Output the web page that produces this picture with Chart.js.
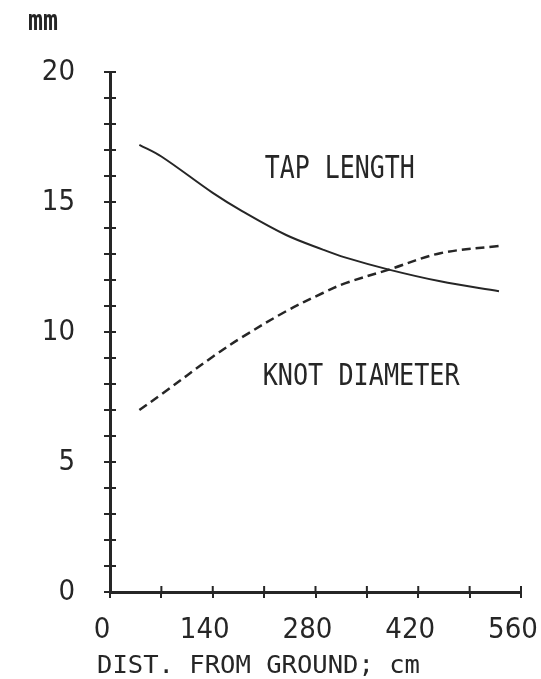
<!DOCTYPE html>
<html><head><meta charset="utf-8">
<script src="https://cdn.jsdelivr.net/npm/chart.js@4.4.0/dist/chart.umd.min.js"></script>
<style>html,body{margin:0;padding:0;background:#fff}#wrap{width:541px;height:679px;position:relative}</style>
</head><body><div id="wrap"><canvas id="c" width="541" height="679"></canvas></div>
<script>
// ---- data ----
const distances    = [40, 70, 140, 180, 240, 290, 320, 380, 450, 530];
const tapLength    = [17.2, 16.75, 15.35, 14.65, 13.73, 13.17, 12.87, 12.4, 11.95, 11.57];
const knotDiameter = [7.0, 7.6, 9.05, 9.8, 10.8, 11.5, 11.87, 12.4, 13.03, 13.31];
const xTickLabels  = [0, 140, 280, 420, 560];
const yTickLabels  = [0, 5, 10, 15, 20];
const seriesNames  = ['TAP LENGTH', 'KNOT DIAMETER'];
const xTitle = 'DIST. FROM GROUND; cm';
const yUnit  = 'mm';

const INK = '#262626';
const tickFont = {family: '"Liberation Sans Narrow","DejaVu Sans Condensed","Liberation Sans",sans-serif', size: 29};
const MONO = '"DejaVu Sans Mono","Liberation Mono",monospace';

function drawFitted(ctx, text, left, baseline, cap, width, weight) {
  const size = cap / 0.729;
  ctx.save();
  ctx.font = (weight || 'normal') + ' ' + size + 'px ' + MONO;
  ctx.fillStyle = INK;
  ctx.textBaseline = 'alphabetic';
  ctx.textAlign = 'left';
  const w = ctx.measureText(text).width;
  ctx.translate(left, baseline);
  ctx.scale(width / w, 1);
  ctx.fillText(text, 0, 0);
  ctx.restore();
}

const decor = {
  id: 'decor',
  afterDraw(chart) {
    const ctx = chart.ctx, xs = chart.scales.x, ys = chart.scales.y, a = chart.chartArea;
    ctx.save();
    ctx.strokeStyle = INK; ctx.lineWidth = 2;
    ctx.beginPath();
    ys.ticks.forEach(t => { const p = ys.getPixelForValue(t.value); ctx.moveTo(a.left, p); ctx.lineTo(a.left + 6, p); });
    xs.ticks.forEach(t => { const p = xs.getPixelForValue(t.value); ctx.moveTo(p, a.bottom); ctx.lineTo(p, a.bottom - 6); });
    ctx.stroke();
    ctx.restore();
    // series labels anchored in data space
    drawFitted(ctx, seriesNames[0], xs.getPixelForValue(211), ys.getPixelForValue(15.92), 23, 150);
    drawFitted(ctx, seriesNames[1], xs.getPixelForValue(208), ys.getPixelForValue(7.96), 22, 197);
    // axis title and unit
    drawFitted(ctx, xTitle, 97, 673, 18, 323);
    drawFitted(ctx, yUnit, 28, 30, 21, 30, 'bold');
  }
};

new Chart(document.getElementById('c'), {
  type: 'line',
  data: {
    datasets: [
      {label: seriesNames[0], data: distances.map((d, i) => ({x: d, y: tapLength[i]})),
       borderColor: INK, borderWidth: 2, pointRadius: 0, tension: 0.35, fill: false},
      {label: seriesNames[1], data: distances.map((d, i) => ({x: d, y: knotDiameter[i]})),
       borderColor: INK, borderWidth: 2.5, borderDash: [9, 5], pointRadius: 0, tension: 0.35, fill: false}
    ]
  },
  options: {
    responsive: false, animation: false, devicePixelRatio: 1,
    layout: {padding: {top: 72, right: 20, left: 0, bottom: 0}},
    plugins: {legend: {display: false}, tooltip: {enabled: false}, title: {display: false}},
    scales: {
      x: {
        type: 'linear', min: 0, max: 560,
        afterFit(s) { s.height = 87; s.paddingLeft = 0; s.paddingRight = 0; },
        ticks: {stepSize: 70, autoSkip: false, maxRotation: 0, padding: 15, labelOffset: -8, color: INK, font: tickFont,
                callback: v => xTickLabels.includes(v) ? String(v) : ''},
        grid: {display: true, drawOnChartArea: false, drawTicks: true, tickLength: 6, color: INK, lineWidth: 2},
        border: {display: true, color: INK, width: 3}
      },
      y: {
        type: 'linear', min: 0, max: 20,
        afterFit(s) { s.width = 110; s.paddingTop = 0; s.paddingBottom = 0; },
        ticks: {stepSize: 1, autoSkip: false, padding: 29, color: INK, font: tickFont,
                callback: v => yTickLabels.includes(v) ? String(v) : ''},
        grid: {display: true, drawOnChartArea: false, drawTicks: true, tickLength: 6, color: INK, lineWidth: 2},
        border: {display: true, color: INK, width: 3}
      }
    }
  },
  plugins: [decor]
});
</script></body></html>
